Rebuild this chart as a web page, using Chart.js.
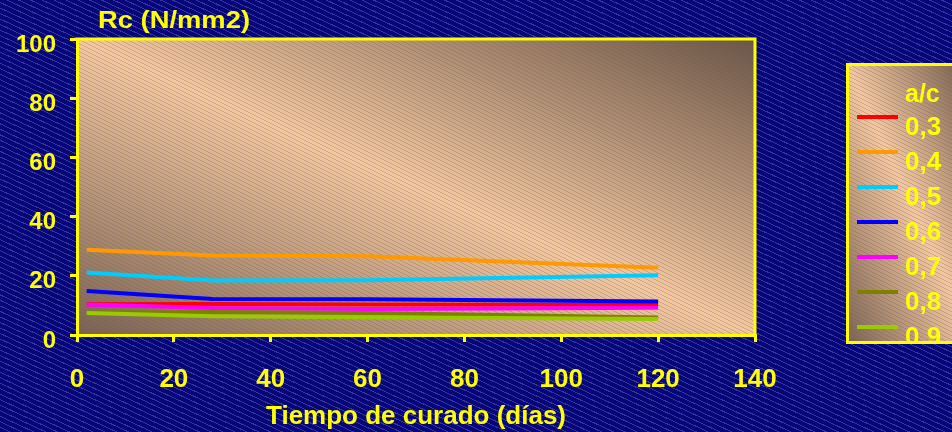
<!DOCTYPE html>
<html>
<head>
<meta charset="utf-8">
<script src="https://cdn.jsdelivr.net/npm/chart.js@4/dist/chart.umd.min.js"></script>
<style>
  html, body { margin: 0; padding: 0; }
  body {
    width: 952px; height: 432px; overflow: hidden;
    background-color: #06067a;
    background-image: repeating-linear-gradient(205deg,
      rgba(150,150,215,0.0) 0px, rgba(150,150,215,0.0) 4px,
      rgba(150,150,215,0.33) 4px, rgba(150,150,215,0.33) 5px);
  }
  #wrap { position: relative; width: 952px; height: 432px; }
</style>
</head>
<body>
<div id="wrap"><canvas id="chart" width="952" height="432"></canvas></div>
<script>
// Curing age (days) at which compressive strength was measured
const curingDays = [2, 28, 60, 120];

// Compressive strength Rc (N/mm2) for each water/cement ratio
const rc03 = [10.4, 10.5, 10.3, 10.2];
const rc04 = [28.8, 26.9, 26.6, 22.7];
const rc05 = [21.1, 18.4, 18.5, 20.2];
const rc06 = [14.9, 12.2, 12.1, 11.3];
const rc07 = [10.3, 9.1, 8.8, 9.2];
const rc08 = [7.6, 7.8, 7.4, 5.9];
const rc09 = [7.4, 6.3, 6.0, 5.4];

const seriesLabels = ['0,3', '0,4', '0,5', '0,6', '0,7', '0,8', '0,9'];
const seriesColors = ['#ff0000', '#ff9900', '#00ccff', '#0000ff', '#ff00ff', '#808000', '#99cc00'];
const seriesValues = [rc03, rc04, rc05, rc06, rc07, rc08, rc09];

const xTicks = [0, 20, 40, 60, 80, 100, 120, 140];
const yTicks = [0, 20, 40, 60, 80, 100];

const legendTitle = 'a/c';
const yAxisTitle = 'Rc (N/mm2)';
const xAxisTitle = 'Tiempo de curado (días)';

const YELLOW = '#ffff00';
const FONT = '"Liberation Sans", Arial, sans-serif';

// Tan "diagonal" fill: dark at two opposite corners, light along the other diagonal
function tanFill(ctx, x, y, w, h) {
  const cx = x + w / 2, cy = y + h / 2;
  const len = Math.hypot(w, h);
  const nx = h / len, ny = -w / len;
  const reach = Math.abs((w / 2) * nx) + Math.abs((h / 2) * ny);
  const g = ctx.createLinearGradient(cx - reach * nx, cy - reach * ny, cx + reach * nx, cy + reach * ny);
  g.addColorStop(0, '#7a6250');
  g.addColorStop(0.5, '#f4c89e');
  g.addColorStop(1, '#6a5544');
  ctx.fillStyle = g;
  ctx.fillRect(x, y, w, h);
}

let hatch = null;
function hatchPattern(ctx) {
  if (hatch) return hatch;
  const c = document.createElement('canvas');
  c.width = 8; c.height = 4;
  const p = c.getContext('2d');
  p.fillStyle = 'rgba(110,90,120,0.28)';
  for (let i = 0; i < 8; i++) {
    p.fillRect(i, Math.floor(i / 2), 1, 1);
  }
  hatch = ctx.createPattern(c, 'repeat');
  return hatch;
}

const decorPlugin = {
  id: 'decor',
  beforeDraw(chart) {
    const { ctx, chartArea: a } = chart;
    ctx.save();
    tanFill(ctx, a.left, a.top, a.right - a.left, a.bottom - a.top);
    ctx.fillStyle = hatchPattern(ctx);
    ctx.fillRect(a.left, a.top, a.right - a.left, a.bottom - a.top);
    ctx.restore();
  },
  afterDraw(chart) {
    const { ctx, chartArea: a } = chart;
    ctx.save();
    // top and right edges of the frame
    ctx.strokeStyle = YELLOW;
    ctx.lineWidth = 3;
    ctx.beginPath();
    ctx.moveTo(a.left - 1.5, a.top);
    ctx.lineTo(a.right, a.top);
    ctx.lineTo(a.right, a.bottom + 1.5);
    ctx.stroke();

    // value-axis caption above the plot
    ctx.fillStyle = YELLOW;
    ctx.font = 'bold 24px ' + FONT;
    ctx.textBaseline = 'middle';
    ctx.textAlign = 'left';
    ctx.save();
    ctx.translate(98, 21);
    ctx.scale(1.14, 1);
    ctx.fillText(yAxisTitle, 0, 0);
    ctx.restore();

    // legend box
    const lx = 846, ly = 63, lw = 130, lh = 281;
    tanFill(ctx, lx, ly, lw, lh);
    ctx.fillStyle = hatchPattern(ctx);
    ctx.fillRect(lx, ly, lw, lh);
    ctx.save();
    ctx.beginPath();
    ctx.rect(lx + 3, ly + 3, lw - 6, lh - 6);
    ctx.clip();
    ctx.fillStyle = YELLOW;
    ctx.font = 'bold 25px ' + FONT;
    ctx.textBaseline = 'middle';
    ctx.textAlign = 'left';
    ctx.fillText(legendTitle, 905, 95);
    chart.data.datasets.forEach((ds, i) => {
      const yText = 128 + 35 * i;
      const yLine = 117 + 35 * i;
      ctx.strokeStyle = ds.borderColor;
      ctx.lineWidth = 4;
      ctx.beginPath();
      ctx.moveTo(857, yLine);
      ctx.lineTo(898, yLine);
      ctx.stroke();
      ctx.fillStyle = YELLOW;
      ctx.font = 'bold 26px ' + FONT;
      ctx.fillText(ds.label, 905, yText);
    });
    ctx.restore();
    ctx.strokeStyle = YELLOW;
    ctx.lineWidth = 3;
    ctx.strokeRect(lx + 1.5, ly + 1.5, lw, lh - 3);
    ctx.restore();
  }
};

const datasets = seriesValues.map((vals, i) => ({
  label: seriesLabels[i],
  data: curingDays.map((d, k) => ({ x: d, y: vals[k] })),
  borderColor: seriesColors[i],
  backgroundColor: seriesColors[i],
  borderWidth: 4,
  pointRadius: 0,
  pointHoverRadius: 0,
  tension: 0,
  fill: false,
  order: seriesValues.length - i
}));

new Chart(document.getElementById('chart'), {
  type: 'line',
  data: { datasets },
  plugins: [decorPlugin],
  options: {
    responsive: false,
    animation: false,
    events: [],
    layout: { padding: { left: 0, right: 197, top: 39, bottom: 0 } },
    plugins: {
      legend: { display: false },
      tooltip: { enabled: false },
      title: { display: false }
    },
    scales: {
      x: {
        type: 'linear',
        min: 0, max: 140,
        afterFit(scale) { scale.height = 97; },
        afterBuildTicks(scale) { scale.ticks = xTicks.map(v => ({ value: v })); },
        border: { display: true, color: YELLOW, width: 3 },
        grid: { drawOnChartArea: false, drawTicks: true, tickLength: 7, color: YELLOW, lineWidth: 3 },
        ticks: {
          color: YELLOW,
          font: { family: FONT, size: 26, weight: 'bold' },
          padding: 22,
          maxRotation: 0,
          autoSkip: false
        },
        title: {
          display: true,
          text: xAxisTitle,
          color: YELLOW,
          font: { family: FONT, size: 26, weight: 'bold' },
          padding: { top: 0, bottom: 0 }
        }
      },
      y: {
        type: 'linear',
        min: 0, max: 100,
        afterFit(scale) { scale.width = 77; },
        afterBuildTicks(scale) { scale.ticks = yTicks.map(v => ({ value: v })); },
        border: { display: true, color: YELLOW, width: 3 },
        grid: { drawOnChartArea: false, drawTicks: true, tickLength: 7, color: YELLOW, lineWidth: 3 },
        ticks: {
          color: YELLOW,
          font: { family: FONT, size: 24, weight: 'bold' },
          padding: 14,
          labelOffset: 6,
          autoSkip: false
        }
      }
    }
  }
});
</script>
</body>
</html>
